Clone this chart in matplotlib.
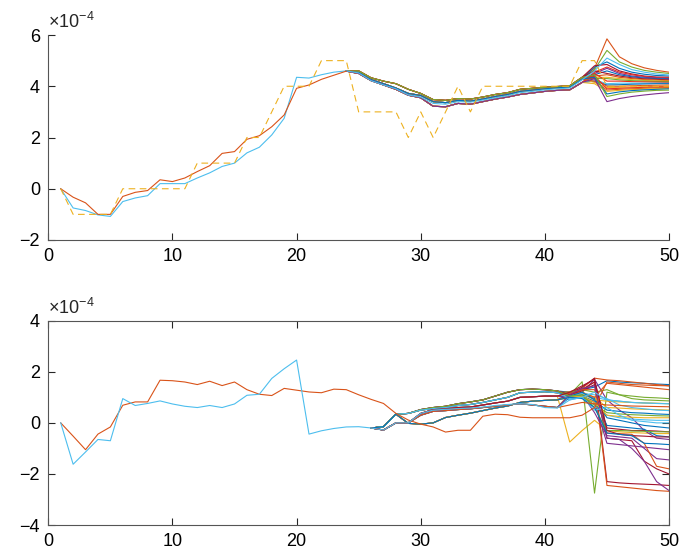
import numpy as np
import matplotlib
matplotlib.use("Agg")
import matplotlib.pyplot as plt

plt.rcParams['font.family'] = ['Liberation Sans', 'DejaVu Sans']
plt.rcParams['mathtext.default'] = 'regular'

# matlab default colour order
blue, orange, yellow, purple = "#0072BD", "#D95319", "#EDB120", "#7E2F8E"
green, lblue, dred = "#77AC30", "#4DBEEE", "#A2142F"

x = np.arange(1, 51)

### top panel (values in units of 1e-4)
top_ref = [0, -1, -1, -1, -1, 0, 0, 0, 0, 0, 0, 1, 1, 1, 1, 2, 2, 3, 4, 4, 4, 5, 5, 5, 3,
           3, 3, 3, 2, 3, 2, 3, 4, 3, 4, 4, 4, 4, 4, 4, 4, 4, 5, 5, 4, 4, 4, 4, 4, 4]

top_head_lb = [0, -0.75, -0.85, -1.02, -1.08, -0.5, -0.36, -0.27, 0.2, 0.2, 0.2, 0.42, 0.62,
               0.87, 1.0, 1.4, 1.62, 2.1, 2.75, 4.35, 4.32, 4.45, 4.55, 4.6]
top_head_or = [0, -0.33, -0.55, -1.0, -1.0, -0.3, -0.14, -0.07, 0.35, 0.28, 0.42, 0.67, 0.9,
               1.38, 1.45, 1.93, 2.07, 2.42, 2.88, 3.92, 4.05, 4.27, 4.43, 4.59]

# x = 25..43
top_body_hi = [4.6, 4.33, 4.2, 4.1, 3.88, 3.72, 3.48, 3.45, 3.52, 3.5, 3.58, 3.68, 3.75, 3.88,
               3.92, 3.96, 3.99, 4.02, 4.35]
top_body_mid = [4.55, 4.26, 4.1, 3.93, 3.72, 3.64, 3.4, 3.36, 3.45, 3.42, 3.5, 3.6, 3.68, 3.8,
                3.85, 3.9, 3.94, 3.97, 4.28]
top_body_lo = [4.5, 4.22, 4.05, 3.88, 3.65, 3.55, 3.22, 3.2, 3.33, 3.3, 3.4, 3.5, 3.58, 3.68,
               3.74, 3.8, 3.84, 3.86, 4.15]
top_body_lb = [4.52, 4.22, 4.05, 3.9, 3.66, 3.58, 3.33, 3.3, 3.4, 3.38, 3.46, 3.55, 3.63, 3.75,
               3.8, 3.86, 3.9, 3.93, 4.25]

# x = 44..50
top_lb_end = [4.6, 5.1, 4.85, 4.65, 4.55, 4.48, 4.44]
top_ends = [
    [4.7, 5.85, 5.15, 4.88, 4.72, 4.62, 4.55],
    [4.65, 5.4, 4.95, 4.75, 4.62, 4.55, 4.5],
    [4.75, 4.95, 4.7, 4.55, 4.47, 4.42, 4.4],
    [4.8, 4.85, 4.6, 4.48, 4.4, 4.36, 4.35],
    [4.55, 4.75, 4.55, 4.45, 4.38, 4.34, 4.32],
    [4.5, 4.7, 4.5, 4.4, 4.35, 4.32, 4.3],
    [4.45, 4.6, 4.45, 4.37, 4.32, 4.3, 4.28],
    [4.6, 4.5, 4.4, 4.33, 4.29, 4.27, 4.25],
    [4.4, 4.45, 4.35, 4.3, 4.26, 4.24, 4.22],
    [4.35, 4.35, 4.3, 4.26, 4.23, 4.21, 4.2],
    [4.3, 4.3, 4.25, 4.22, 4.2, 4.19, 4.18],
    [4.5, 4.2, 4.2, 4.18, 4.17, 4.16, 4.15],
    [4.25, 4.1, 4.12, 4.12, 4.12, 4.12, 4.12],
    [4.2, 4.05, 4.06, 4.08, 4.09, 4.1, 4.1],
    [4.3, 4.0, 4.0, 4.02, 4.03, 4.04, 4.05],
    [4.15, 3.95, 3.96, 3.97, 3.98, 3.99, 4.0],
    [4.4, 3.9, 3.92, 3.94, 3.96, 3.97, 3.98],
    [4.2, 3.85, 3.88, 3.9, 3.92, 3.94, 3.95],
    [4.1, 3.8, 3.84, 3.87, 3.89, 3.91, 3.92],
    [4.35, 3.7, 3.78, 3.83, 3.86, 3.88, 3.9],
    [4.45, 3.6, 3.7, 3.77, 3.81, 3.84, 3.85],
    [4.3, 3.4, 3.52, 3.6, 3.66, 3.71, 3.75],
]
top_colors = [orange, green, blue, dred, "#E8301C", purple, blue, dred, orange, yellow,
              green, "#E8301C", lblue, blue, orange, yellow, "#E8301C", orange, yellow, blue,
              green, purple]
top_body_pick = ["hi", "mid", "mid", "hi", "lo", "mid", "lo", "hi", "mid", "lo", "mid",
                 "lo", "mid", "lo", "hi", "mid", "lo", "mid", "lo", "mid", "hi", "lo"]

### bottom panel (values in units of 1e-4)
bot_head_lb = [0, -1.62, -1.14, -0.65, -0.7, 0.95, 0.68, 0.76, 0.86, 0.74, 0.65, 0.6, 0.68,
               0.6, 0.74, 1.08, 1.12, 1.74, 2.12, 2.46, -0.44, -0.31, -0.22, -0.16, -0.15, -0.2]
bot_head_or = [0, -0.52, -1.05, -0.44, -0.16, 0.69, 0.82, 0.82, 1.67, 1.65, 1.6, 1.5, 1.63,
               1.46, 1.6, 1.3, 1.12, 1.07, 1.35, 1.28, 1.21, 1.18, 1.32, 1.3, 1.1, 0.92]
# x = 27..50 for the orange one
bot_tail_or = [0.76, 0.37, 0.11, -0.05, -0.16, -0.36, -0.29, -0.29, 0.26, 0.34, 0.32, 0.22,
               0.2, 0.2, 0.2, 0.2, 0.3, 0.6, 1.6, 1.55, 1.5, 1.48, 1.46, 1.45]
# x = 27..50 for the light blue one
bot_tail_lb = [-0.28, 0.0, 0.0, 0.37, 0.5, 0.53, 0.56, 0.58, 0.62, 0.68, 0.72, 0.75, 0.72,
               0.6, 0.58, 0.9, 1.0, 1.2, 0.9, 0.85, 0.8, 0.78, 0.76, 0.75]

# x = 27..41
bot_body_top = [-0.15, 0.34, 0.37, 0.52, 0.6, 0.65, 0.75, 0.82, 0.9, 1.05, 1.2, 1.3, 1.32, 1.3, 1.25]
bot_body_hi = [-0.15, 0.34, 0.37, 0.5, 0.56, 0.6, 0.68, 0.72, 0.8, 0.9, 1.0, 1.18, 1.2, 1.22, 1.18]
bot_body_mid = [-0.28, 0.0, 0.0, 0.37, 0.52, 0.55, 0.6, 0.62, 0.7, 0.78, 0.85, 1.0, 1.02, 1.05, 1.05]
bot_body_lo = [-0.15, 0.34, -0.02, -0.05, 0.0, 0.21, 0.3, 0.38, 0.48, 0.58, 0.66, 0.8, 0.85, 0.88, 0.9]
bot_body_low = [-0.28, 0.0, 0.0, 0.3, 0.45, 0.48, 0.52, 0.55, 0.6, 0.65, 0.7, 0.75, 0.7, 0.65, 0.6]

# x = 42..50
bot_ends = [
    [1.2, 1.3, 1.4, 1.65, 1.6, 1.57, 1.55, 1.52, 1.5],
    [1.22, 1.35, 1.75, 1.68, 1.65, 1.6, 1.55, 1.5, 1.45],
    [-0.75, -0.3, 0.1, -0.3, -0.35, -0.38, -0.4, -0.42, -0.42],
    [1.05, 1.2, 1.7, 0.9, 0.5, 0.2, -0.3, -0.6, -0.65],
    [1.1, 1.61, -2.75, 1.2, 1.1, 1.05, 1.0, 0.98, 0.95],
    [1.0, 1.1, 1.0, 0.9, 0.85, 0.8, 0.78, 0.76, 0.75],
    [1.15, 1.4, 1.75, -2.3, -2.35, -2.38, -2.4, -2.42, -2.45],
    [1.0, 1.05, 0.85, 0.5, 0.45, 0.4, 0.38, 0.35, 0.33],
    [1.1, 1.3, 1.6, -2.45, -2.5, -2.55, -2.6, -2.65, -2.68],
    [1.15, 1.2, 1.0, 0.6, 0.58, 0.55, 0.53, 0.52, 0.5],
    [1.05, 1.1, 0.4, -0.5, -0.55, -0.6, -1.0, -1.4, -1.45],
    [1.2, 1.3, 1.2, 1.3, 1.1, 0.95, 0.9, 0.88, 0.86],
    [0.9, 1.0, 0.7, 0.3, 0.2, 0.15, 0.12, 0.1, 0.1],
    [1.1, 1.25, 1.5, -0.6, -0.65, -0.7, -1.5, -1.8, -2.0],
    [1.0, 1.1, 0.95, 0.2, 0.1, 0.0, -0.1, -0.15, -0.2],
    [1.1, 1.2, 1.0, 1.55, 1.5, 1.45, 1.4, 1.35, 1.3],
    [1.05, 1.15, 0.9, 0.85, 0.82, 0.8, 0.78, 0.77, 0.75],
    [0.95, 1.0, 0.8, -0.8, -0.85, -0.9, -0.95, -1.0, -1.05],
    [1.0, 1.05, 0.7, 0.4, 0.35, 0.32, 0.3, 0.28, 0.27],
    [1.05, 1.15, 1.1, 0.95, 0.7, 0.6, 0.55, 0.5, 0.48],
    [1.1, 1.3, 1.6, -0.2, -0.25, -0.3, -0.3, -0.32, -0.35],
    [1.05, 1.2, 0.9, -0.1, -0.15, -0.2, -0.25, -0.5, -0.55],
    [1.15, 1.3, 1.3, -0.4, -0.42, -0.45, -0.8, -1.7, -1.8],
    [1.0, 1.05, 0.8, 0.3, 0.25, 0.22, 0.2, 0.2, 0.2],
    [1.1, 1.35, 1.45, -0.6, -0.65, -1.0, -1.5, -2.3, -2.65],
    [1.05, 1.1, 0.6, -0.3, -0.3, -0.32, -0.33, -0.35, -0.35],
    [0.95, 1.0, 0.5, 0.6, 0.3, 0.1, 0.05, 0.0, 0.0],
    [1.2, 1.45, 1.7, -0.3, -0.45, -0.5, -0.52, -0.55, -0.55],
    [1.0, 0.95, 0.6, -0.4, -0.45, -0.5, -0.8, -0.82, -0.85],
    [0.7, 0.8, 0.75, 0.7, 0.68, 0.66, 0.65, 0.64, 0.63],
]
bot_colors = [blue, orange, yellow, purple, green, lblue, dred] * 5
bot_body_pick = ["top", "hi", "mid", "lo", "low"] * 6

top_bodies = {"hi": top_body_hi, "mid": top_body_mid, "lo": top_body_lo}
bot_bodies = {"top": bot_body_top, "hi": bot_body_hi, "mid": bot_body_mid,
              "lo": bot_body_lo, "low": bot_body_low}

fig = plt.figure(figsize=(6.91, 5.54), dpi=100)
ax1 = fig.add_axes([0.0699, 0.5668, 0.8983, 0.370])
ax2 = fig.add_axes([0.0699, 0.0523, 0.8983, 0.3688])

lw = 0.8
# bundle lines are drawn from the point where they leave the shared start
for i, end in enumerate(top_ends):
    y = top_head_or + top_bodies[top_body_pick[i]] + end
    ax1.plot(x[23:], y[23:], color=top_colors[i], lw=lw)
ax1.plot(x, top_head_lb + top_body_lb + top_lb_end, color=lblue, lw=lw)
ax1.plot(x[:24], top_head_or, color=orange, lw=lw)
ax1.plot(x, top_ref, color=yellow, lw=lw, ls=(0, (6, 4)))

for i, end in enumerate(bot_ends):
    y = bot_head_lb + bot_bodies[bot_body_pick[i]] + end
    ax2.plot(x[25:], y[25:], color=bot_colors[i], lw=lw)
ax2.plot(x, bot_head_or + bot_tail_or, color=orange, lw=lw)
ax2.plot(x, bot_head_lb + bot_tail_lb, color=lblue, lw=lw)

axcol = "#262626"
for ax, lims, ticks in [(ax1, (-2, 6), [-2, 0, 2, 4, 6]), (ax2, (-4, 4), [-4, -2, 0, 2, 4])]:
    ax.set_xlim(0, 50)
    ax.set_ylim(*lims)
    ax.set_xticks([0, 10, 20, 30, 40, 50])
    ax.set_yticks(ticks)
    ax.tick_params(direction="in", length=5, width=0.8, labelsize=13, colors=axcol,
                   labelcolor="black", pad=6)
    for s in ax.spines.values():
        s.set_color("#555555")
        s.set_linewidth(0.8)
    ax.text(0.0, 1.015, r"$\times10^{-4}$", transform=ax.transAxes, fontsize=13,
            ha="left", va="bottom", color=axcol)

ax1.spines["top"].set_visible(False)
ax1.spines["right"].set_visible(False)
ax2.tick_params(top=True, right=True)

plt.savefig("out.png", dpi=100)
